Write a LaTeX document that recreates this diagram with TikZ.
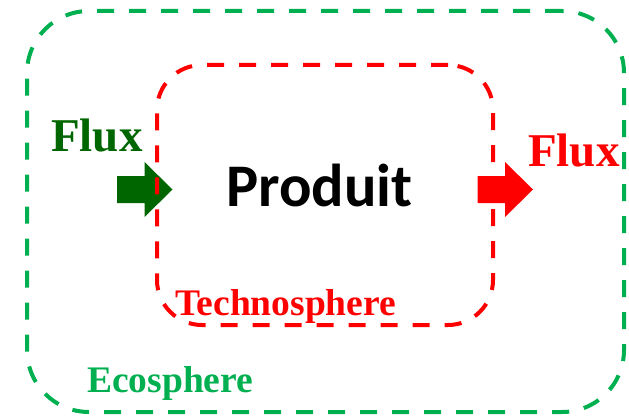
\documentclass[tikz,border=0pt]{standalone}
\usepackage{fontspec}
\setmainfont{Liberation Serif}
\newfontfamily\carlito{Carlito}
\definecolor{ecogreen}{RGB}{0,176,80}
\definecolor{fluxgreen}{RGB}{0,102,0}
\definecolor{technored}{RGB}{255,0,0}
\tikzset{
  sphere/.style={draw, line width=4pt, dash pattern=on 17pt off 15pt,
    inner sep=0pt, fill=none},
  flowarrow/.pic={
    \fill (-27.5,-13.5) -- (0,-13.5) -- (0,-27.5) -- (28,0)
          -- (0,27.5) -- (0,13.5) -- (-27.5,13.5) -- cycle;
  },
  label/.style={inner sep=0pt, anchor=base west},
}
\begin{document}
\begin{tikzpicture}[x=1pt,y=-1pt]
\useasboundingbox (0,0) rectangle (629,417);
% outer boundary: the ecosphere
\node[sphere, draw=ecogreen, rounded corners=62pt,
  minimum width=597pt, minimum height=401pt] (eco) at (325.5,211.5) {};
% flows in and out of the product system
\pic[color=fluxgreen] (inflow) at (144.5,189.5) {flowarrow};
\pic[color=technored] (outflow) at (505,189.5) {flowarrow};
% inner boundary: the technosphere
\node[sphere, draw=technored, rounded corners=45pt,
  minimum width=336pt, minimum height=260pt] (techno) at (325,195) {};
% labels
\node[label, text=fluxgreen, font=\fontsize{47}{47}\selectfont\bfseries] (fluxin) at (51,151) {Flux};
\node[label, text=technored, font=\fontsize{47}{47}\selectfont\bfseries] (fluxout) at (528,167) {Flux};
\node[label, font=\carlito\fontsize{60.5}{60.5}\selectfont\bfseries] (produit) at (226,206) {Produit};
\node[label, text=technored, font=\fontsize{37.5}{37.5}\selectfont\bfseries] (technolabel) at (175,315) {Technosphere};
\node[label, text=ecogreen, font=\fontsize{37.5}{37.5}\selectfont\bfseries] (ecolabel) at (87,392) {Ecosphere};
\end{tikzpicture}
\end{document}
